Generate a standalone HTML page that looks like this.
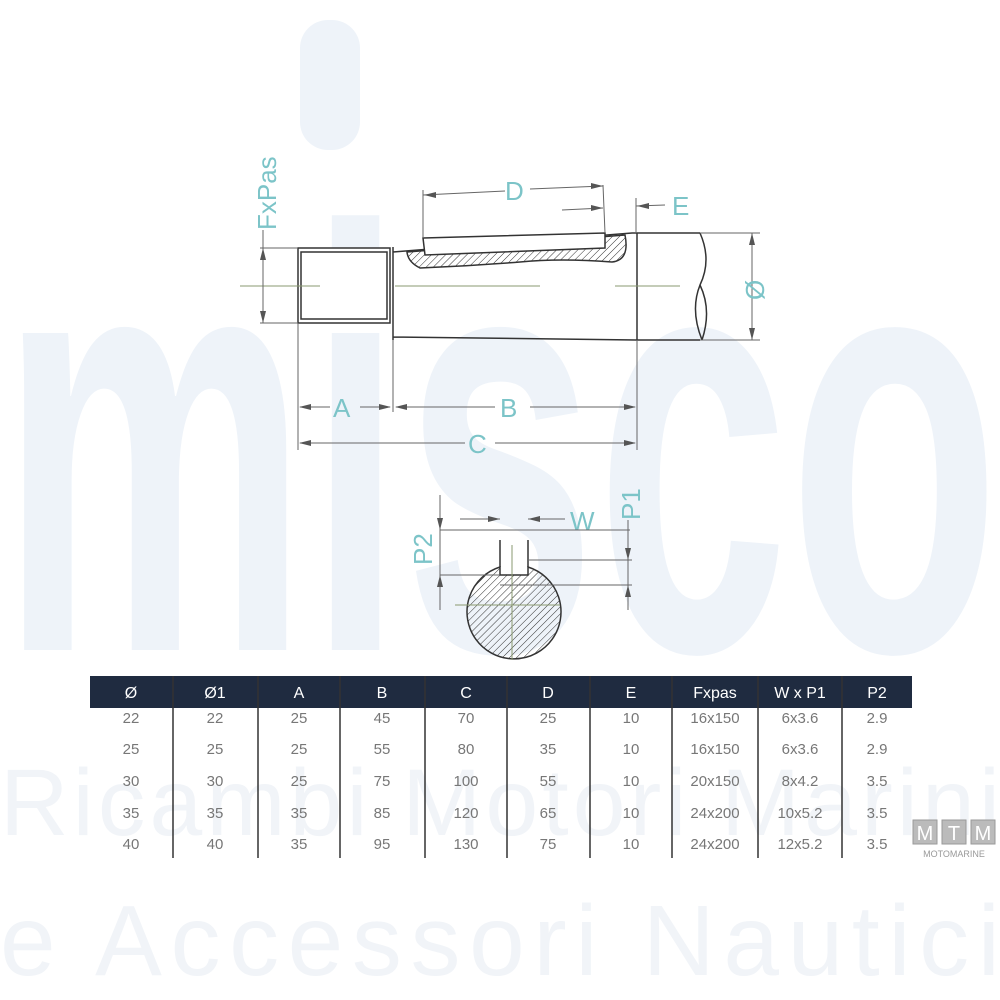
<!DOCTYPE html>
<html><head><meta charset="utf-8"><style>
html,body{margin:0;padding:0;background:#fff;}
svg{display:block}
</style></head><body>
<svg width="1000" height="1000" viewBox="0 0 1000 1000" xmlns="http://www.w3.org/2000/svg" font-family="Liberation Sans, sans-serif">
<defs>
<pattern id="h" width="5" height="5" patternUnits="userSpaceOnUse" patternTransform="rotate(45)">
<line x1="0" y1="0" x2="0" y2="5" stroke="#333" stroke-width="1"/>
</pattern>
</defs>
<!-- watermark -->
<g fill="#eef3f9">
<rect x="300" y="20" width="60" height="130" rx="28"/>
<text x="0" y="650" font-size="600" font-weight="bold" textLength="1000" lengthAdjust="spacingAndGlyphs">misco</text>
</g>
<text x="0" y="835" font-size="95" fill="#f1f4f8" textLength="1000" lengthAdjust="spacing">Ricambi Motori Marini</text>
<text x="0" y="975" font-size="100" fill="#f1f4f8" textLength="1000" lengthAdjust="spacing">e Accessori Nautici</text>

<!-- shaft drawing -->
<g stroke="#333" stroke-width="1.5" fill="none">
<rect x="298" y="248" width="92" height="75" fill="#fff"/>
<rect x="301" y="252" width="86" height="67"/>
<path d="M393 252 L632 233 L700 233 M393 337 L637 340 L700 340 M393 247 L393 340 M637 233 L637 340" fill="#fff"/>
<path d="M700 233 Q712 260 700 285 Q690 310 702 340 M700 285 Q712 310 702 340" />
<path d="M407 252 L625 235 Q630 260 612 262 Q560 258 520 262 Q470 266 420 268 Q408 262 407 252 Z" fill="url(#h)"/>
<path d="M423 238 L605 233 L605 248 L425 255 Z" fill="#fff"/>
</g>
<g stroke="#666" stroke-width="1" fill="none">
<line x1="240" y1="286" x2="320" y2="286" stroke="#8a9a70"/>
<line x1="395" y1="286" x2="540" y2="286" stroke="#8a9a70"/>
<line x1="615" y1="286" x2="680" y2="286" stroke="#8a9a70"/>
<line x1="260" y1="248" x2="298" y2="248"/><line x1="260" y1="323" x2="298" y2="323"/>
<line x1="263" y1="230" x2="263" y2="323"/>
<line x1="700" y1="233" x2="760" y2="233"/><line x1="700" y1="340" x2="760" y2="340"/>
<line x1="752" y1="233" x2="752" y2="340"/>
<line x1="298" y1="323" x2="298" y2="450"/><line x1="393" y1="340" x2="393" y2="412"/><line x1="637" y1="340" x2="637" y2="450"/>
<line x1="300" y1="407" x2="330" y2="407"/><line x1="360" y1="407" x2="390" y2="407"/>
<line x1="396" y1="407" x2="495" y2="407"/><line x1="530" y1="407" x2="635" y2="407"/>
<line x1="300" y1="443" x2="465" y2="443"/><line x1="495" y1="443" x2="635" y2="443"/>
<line x1="423" y1="238" x2="423" y2="190"/><line x1="605" y1="233" x2="603" y2="185"/>
<line x1="423" y1="195" x2="505" y2="191"/><line x1="530" y1="189" x2="603" y2="186"/>
<line x1="636" y1="233" x2="636" y2="198"/>
<line x1="562" y1="210" x2="603" y2="208"/><line x1="636" y1="206" x2="665" y2="205"/>
</g>
<g fill="#555">
<path d="M263 248 l-3 12 h6z"/><path d="M263 323 l-3 -12 h6z"/>
<path d="M752 233 l-3 12 h6z"/><path d="M752 340 l-3 -12 h6z"/>
<path d="M299 407 l12 -3 v6z"/><path d="M391 407 l-12 -3 v6z"/><path d="M395 407 l12 -3 v6z"/><path d="M636 407 l-12 -3 v6z"/>
<path d="M299 443 l12 -3 v6z"/><path d="M636 443 l-12 -3 v6z"/>
<path d="M424 195 l12 -3 v6z"/><path d="M603 186 l-12 -3 v6z"/>
<path d="M603 208 l-12 -3 v6z"/><path d="M637 206 l12 -3 v6z"/>
</g>
<g fill="#7cc4c8" font-size="26">
<text x="333" y="417">A</text><text x="500" y="417">B</text><text x="468" y="453">C</text>
<text x="505" y="200">D</text><text x="672" y="215">E</text>
<text transform="translate(276,230) rotate(-90)">FxPas</text>
<text transform="translate(764,300) rotate(-90)">Ø</text>
<text x="570" y="530">W</text>
<text transform="translate(640,520) rotate(-90)">P1</text>
<text transform="translate(432,565) rotate(-90)">P2</text>
</g>

<!-- cross section -->
<g stroke="#333" stroke-width="1.5">
<path d="M500 567 A47 47 0 1 0 528 567 L528 575 L500 575 Z" fill="url(#h)"/>
<path d="M500 567 L500 540 M528 567 L528 540" fill="none"/>
</g>
<g stroke="#666" stroke-width="1" fill="none">
<line x1="512" y1="545" x2="512" y2="660" stroke="#8a9a70"/>
<line x1="455" y1="605" x2="560" y2="605" stroke="#8a9a70"/>
<line x1="440" y1="495" x2="440" y2="610"/>
<line x1="440" y1="530" x2="630" y2="530"/><line x1="440" y1="575" x2="500" y2="575"/>
<line x1="528" y1="560" x2="632" y2="560"/><line x1="500" y1="585" x2="632" y2="585"/>
<line x1="460" y1="519" x2="500" y2="519"/><line x1="528" y1="519" x2="565" y2="519"/>
<line x1="628" y1="520" x2="628" y2="610"/>
</g>
<g fill="#555">
<path d="M500 519 l-12 -3 v6z"/><path d="M528 519 l12 -3 v6z"/>
<path d="M440 530 l-3 -12 h6z"/><path d="M440 575 l-3 12 h6z"/>
<path d="M628 560 l-3 -12 h6z"/><path d="M628 585 l-3 12 h6z"/>
</g>

<!-- table -->
<rect x="90" y="676" width="822" height="32" fill="#1f2b40"/>
<g fill="#fff" font-size="16" text-anchor="middle">
<text x="131" y="698">Ø</text><text x="215" y="698">Ø1</text><text x="299" y="698">A</text><text x="382" y="698">B</text><text x="466" y="698">C</text><text x="548" y="698">D</text><text x="631" y="698">E</text><text x="715" y="698">Fxpas</text><text x="800" y="698">W x P1</text><text x="877" y="698">P2</text>
</g>
<g stroke="#333" stroke-width="1.5">
<line x1="173" y1="676" x2="173" y2="858"/><line x1="258" y1="676" x2="258" y2="858"/><line x1="340" y1="676" x2="340" y2="858"/><line x1="425" y1="676" x2="425" y2="858"/><line x1="507" y1="676" x2="507" y2="858"/><line x1="590" y1="676" x2="590" y2="858"/><line x1="672" y1="676" x2="672" y2="858"/><line x1="758" y1="676" x2="758" y2="858"/><line x1="842" y1="676" x2="842" y2="858"/>
</g>
<g fill="#777" font-size="15" text-anchor="middle">
<g transform="translate(0,723)"><text x="131">22</text><text x="215">22</text><text x="299">25</text><text x="382">45</text><text x="466">70</text><text x="548">25</text><text x="631">10</text><text x="715">16x150</text><text x="800">6x3.6</text><text x="877">2.9</text></g>
<g transform="translate(0,754)"><text x="131">25</text><text x="215">25</text><text x="299">25</text><text x="382">55</text><text x="466">80</text><text x="548">35</text><text x="631">10</text><text x="715">16x150</text><text x="800">6x3.6</text><text x="877">2.9</text></g>
<g transform="translate(0,786)"><text x="131">30</text><text x="215">30</text><text x="299">25</text><text x="382">75</text><text x="466">100</text><text x="548">55</text><text x="631">10</text><text x="715">20x150</text><text x="800">8x4.2</text><text x="877">3.5</text></g>
<g transform="translate(0,818)"><text x="131">35</text><text x="215">35</text><text x="299">35</text><text x="382">85</text><text x="466">120</text><text x="548">65</text><text x="631">10</text><text x="715">24x200</text><text x="800">10x5.2</text><text x="877">3.5</text></g>
<g transform="translate(0,849)"><text x="131">40</text><text x="215">40</text><text x="299">35</text><text x="382">95</text><text x="466">130</text><text x="548">75</text><text x="631">10</text><text x="715">24x200</text><text x="800">12x5.2</text><text x="877">3.5</text></g>
</g>
<!-- MTM logo -->
<g fill="#bbb" stroke="#999">
<rect x="913" y="820" width="24" height="24"/><rect x="942" y="820" width="24" height="24"/><rect x="971" y="820" width="24" height="24"/>
</g>
<g fill="#fff" font-size="20" text-anchor="middle"><text x="925" y="840">M</text><text x="954" y="840">T</text><text x="983" y="840">M</text></g>
<text x="954" y="857" font-size="9" fill="#999" text-anchor="middle">MOTOMARINE</text>
</svg>
</body></html>
